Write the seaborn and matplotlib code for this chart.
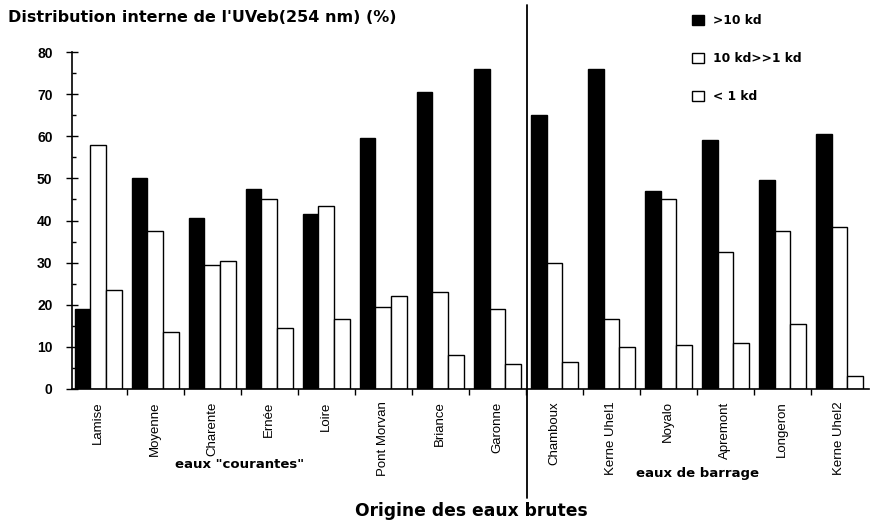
import matplotlib
matplotlib.use("Agg")
import matplotlib.pyplot as plt
import seaborn as sns
import pandas as pd
from matplotlib.ticker import MultipleLocator

sites = ["Lamise", "Moyenne", "Charente", "Ernée", "Loire", "Pont Morvan",
         "Briance", "Garonne", "Chamboux", "Kerne Uhel1", "Noyalo",
         "Apremont", "Longeron", "Kerne Uhel2"]
gt10 = [19, 50, 40.5, 47.5, 41.5, 59.5, 70.5, 76, 65, 76, 47, 59, 49.5, 60.5]
mid = [58, 37.5, 29.5, 45, 43.5, 19.5, 23, 19, 30, 16.5, 45, 32.5, 37.5, 38.5]
lt1 = [23.5, 13.5, 30.5, 14.5, 16.5, 22, 8, 6, 6.5, 10, 10.5, 11, 15.5, 3]
series = [">10 kd", "10 kd>>1 kd", "< 1 kd"]
yticks = [0, 10, 20, 30, 40, 50, 60, 70, 80]

rows = []
for name, vals in zip(series, [gt10, mid, lt1]):
    for s, v in zip(sites, vals):
        rows.append({"site": s, "fraction": name, "value": v})
df = pd.DataFrame(rows)

sns.set_theme(style="white")
plt.rcParams["font.family"] = ["Liberation Sans", "DejaVu Sans"]
plt.rcParams["text.color"] = "black"
plt.rcParams["xtick.color"] = "black"
plt.rcParams["ytick.color"] = "black"
plt.rcParams["axes.labelcolor"] = "black"

fig = plt.figure(figsize=(8.71, 5.21), dpi=100)
ax = fig.add_axes([72 / 871, 1 - 389 / 521, (869 - 72) / 871, (389 - 52) / 521])

sns.barplot(data=df, x="site", y="value", hue="fraction", order=sites,
            hue_order=series, palette=["black", "white", "white"],
            edgecolor="black", linewidth=1.0, width=0.82, saturation=1,
            ax=ax)

ax.set_ylim(0, 80)
ax.set_xlim(-0.46, 13.52)
ax.set_yticks(yticks)
ax.set_yticklabels([str(t) for t in yticks], fontsize=10, fontweight="bold")
ax.yaxis.set_minor_locator(MultipleLocator(5))
ax.tick_params(axis="y", which="major", direction="inout", length=8, width=1,
               left=True, pad=10, colors="black")
ax.tick_params(axis="y", which="minor", direction="in", length=3, width=1, left=True)

ax.set_xticks(range(len(sites)))
ax.set_xticklabels(sites, rotation=90, fontsize=9.5, color="black")
ax.tick_params(axis="x", which="major", length=0, pad=9)
ax.set_xticks([i + 0.5 for i in range(len(sites) - 1)], minor=True)
ax.tick_params(axis="x", which="minor", direction="out", length=4, width=1, bottom=True)

for sp in ["top", "right"]:
    ax.spines[sp].set_visible(False)
for sp in ["left", "bottom"]:
    ax.spines[sp].set_color("black")
    ax.spines[sp].set_linewidth(1.2)

ax.set_xlabel("")
ax.set_ylabel("")

# divider between the two groups of waters
ax.axvline(7.52, ymin=-0.323, ymax=1.14, color="black", lw=1.3, clip_on=False)

bold = dict(family=["DejaVu Sans"], fontweight="bold", color="black")
fig.text(8 / 871, 1 - 18 / 521, "Distribution interne de l'UVeb(254 nm) (%)",
         fontsize=11.5, va="center", ha="left", **bold)
fig.text(240 / 871, 1 - 464 / 521, 'eaux "courantes"', fontsize=9.5,
         ha="center", va="center", **bold)
fig.text(697 / 871, 1 - 474 / 521, "eaux de barrage", fontsize=9.5,
         ha="center", va="center", **bold)
fig.text(471 / 871, 1 - 511 / 521, "Origine des eaux brutes", fontsize=12.3,
         ha="center", va="center", **bold)

sns.move_legend(ax, "upper left", bbox_to_anchor=(681 / 871, 1 - 3 / 521),
                bbox_transform=fig.transFigure, frameon=False, title=None,
                labelspacing=2.05, handlelength=0.95, handleheight=0.95,
                handletextpad=0.8,
                prop={"size": 8.8, "weight": "bold", "family": "DejaVu Sans"})

fig.savefig("out.png", dpi=100, facecolor="white")
